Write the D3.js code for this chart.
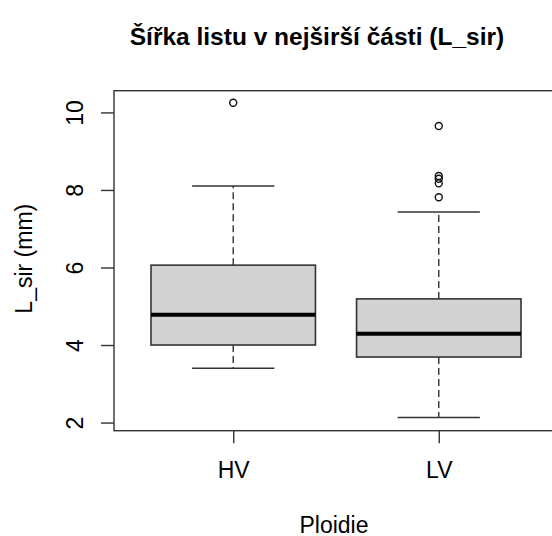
<!DOCTYPE html>
<html>
<head>
<meta charset="utf-8">
<script src="https://cdn.jsdelivr.net/npm/d3@7"></script>
<style>
  body { margin: 0; background: #fff; }
  text { font-family: "Liberation Sans", Arial, sans-serif; fill: #000; }
</style>
</head>
<body>
<div id="chart"></div>
<script>
// data
var groups = ["HV", "LV"];
var lowerWhisker = [3.40, 2.13];
var q1 = [4.00, 3.69];
var median = [4.78, 4.29];
var q3 = [6.06, 5.19];
var upperWhisker = [8.10, 7.43];
var outliersHV = [10.25];
var outliersLV = [9.65, 8.36, 8.29, 8.17, 7.81];
var yTicks = [2, 4, 6, 8, 10];

var svgWidth = 552;
var svgHeight = 536;

var plot = { left: 114, right: 558, top: 90.7, bottom: 430.7 };

var svg = d3.select("#chart")
  .append("svg")
  .attr("width", svgWidth)
  .attr("height", svgHeight);

var boxes = groups.map(function(g, i) {
  return {
    name: g,
    pos: i + 1,
    lo: lowerWhisker[i],
    q1: q1[i],
    med: median[i],
    q3: q3[i],
    hi: upperWhisker[i],
    out: i === 0 ? outliersHV : outliersLV
  };
});

// R style scales: x 0.5..2.5 plus 4%, y data range plus 4%
var xScale = d3.scaleLinear()
  .domain([0.42, 2.58])
  .range([plot.left, plot.right]);

var yScale = d3.scaleLinear()
  .domain([1.79, 10.56])
  .range([plot.bottom, plot.top]);

var lineCol = "#333";

// whiskers (dashed)
svg.selectAll(".whisk-up").data(boxes).enter().append("line")
  .attr("x1", d => xScale(d.pos)).attr("x2", d => xScale(d.pos))
  .attr("y1", d => yScale(d.q3)).attr("y2", d => yScale(d.hi))
  .attr("stroke", lineCol).attr("stroke-width", 1.4)
  .attr("stroke-dasharray", "7,4");

svg.selectAll(".whisk-lo").data(boxes).enter().append("line")
  .attr("x1", d => xScale(d.pos)).attr("x2", d => xScale(d.pos))
  .attr("y1", d => yScale(d.q1)).attr("y2", d => yScale(d.lo))
  .attr("stroke", lineCol).attr("stroke-width", 1.4)
  .attr("stroke-dasharray", "7,4");

// staples
["hi", "lo"].forEach(function(k) {
  svg.selectAll(".staple-" + k).data(boxes).enter().append("line")
    .attr("x1", d => xScale(d.pos - 0.2)).attr("x2", d => xScale(d.pos + 0.2))
    .attr("y1", d => yScale(d[k])).attr("y2", d => yScale(d[k]))
    .attr("stroke", lineCol).attr("stroke-width", 1.4);
});

// boxes
svg.selectAll(".box").data(boxes).enter().append("rect")
  .attr("x", d => xScale(d.pos - 0.4))
  .attr("y", d => yScale(d.q3))
  .attr("width", d => xScale(d.pos + 0.4) - xScale(d.pos - 0.4))
  .attr("height", d => yScale(d.q1) - yScale(d.q3))
  .attr("fill", "#d3d3d3")
  .attr("stroke", lineCol)
  .attr("stroke-width", 1.6);

// medians
svg.selectAll(".median").data(boxes).enter().append("line")
  .attr("x1", d => xScale(d.pos - 0.4)).attr("x2", d => xScale(d.pos + 0.4))
  .attr("y1", d => yScale(d.med)).attr("y2", d => yScale(d.med))
  .attr("stroke", "#000").attr("stroke-width", 4);

// outliers
boxes.forEach(function(b) {
  svg.selectAll(null).data(b.out).enter().append("circle")
    .attr("cx", xScale(b.pos))
    .attr("cy", d => yScale(d))
    .attr("r", 3.5)
    .attr("fill", "none")
    .attr("stroke", "#111")
    .attr("stroke-width", 1.4);
});

// plot frame
svg.append("rect")
  .attr("x", plot.left).attr("y", plot.top)
  .attr("width", plot.right - plot.left)
  .attr("height", plot.bottom - plot.top)
  .attr("fill", "none")
  .attr("stroke", lineCol)
  .attr("stroke-width", 1.4);

// y axis
var leftAxis = d3.axisLeft(yScale).tickValues(yTicks).tickSize(13).tickSizeOuter(0).tickPadding(0);
var yAxis = svg.append("g")
  .attr("transform", `translate(${plot.left}, 0)`)
  .call(leftAxis);
yAxis.select(".domain").attr("stroke", "none");
yAxis.selectAll("line").attr("stroke", lineCol).attr("stroke-width", 1.4);
yAxis.selectAll("text")
  .attr("x", null).attr("dy", null)
  .attr("transform", "translate(-31,0) rotate(-90)")
  .attr("text-anchor", "middle")
  .style("font-size", "23px")
  .style("font-family", "Liberation Sans, Arial, sans-serif")
  .attr("fill", "#000");

// x axis
var bottomAxis = d3.axisBottom(xScale).tickValues([1, 2]).tickFormat((d, i) => groups[i])
  .tickSize(12.5).tickSizeOuter(0).tickPadding(0);
var xAxis = svg.append("g")
  .attr("transform", `translate(0, ${plot.bottom})`)
  .call(bottomAxis);
xAxis.select(".domain").attr("stroke", "none");
xAxis.selectAll("line").attr("stroke", lineCol).attr("stroke-width", 1.4);
xAxis.selectAll("text")
  .attr("y", 47.5).attr("dy", null)
  .style("font-size", "23px")
  .style("font-family", "Liberation Sans, Arial, sans-serif")
  .attr("fill", "#000");

// axis titles
svg.append("text")
  .attr("x", 334).attr("y", 532.5)
  .attr("text-anchor", "middle")
  .style("font-size", "23px")
  .text("Ploidie");

svg.append("text")
  .attr("transform", `translate(32, ${(plot.top + plot.bottom) / 2 - 2}) rotate(-90)`)
  .attr("text-anchor", "middle")
  .style("font-size", "23px")
  .text("L_sir (mm)");

// main title
svg.append("text")
  .attr("x", 317).attr("y", 45)
  .attr("text-anchor", "middle")
  .style("font-size", "24.5px")
  .style("font-weight", "bold")
  .text("Šířka listu v nejširší části (L_sir)");
</script>
</body>
</html>
